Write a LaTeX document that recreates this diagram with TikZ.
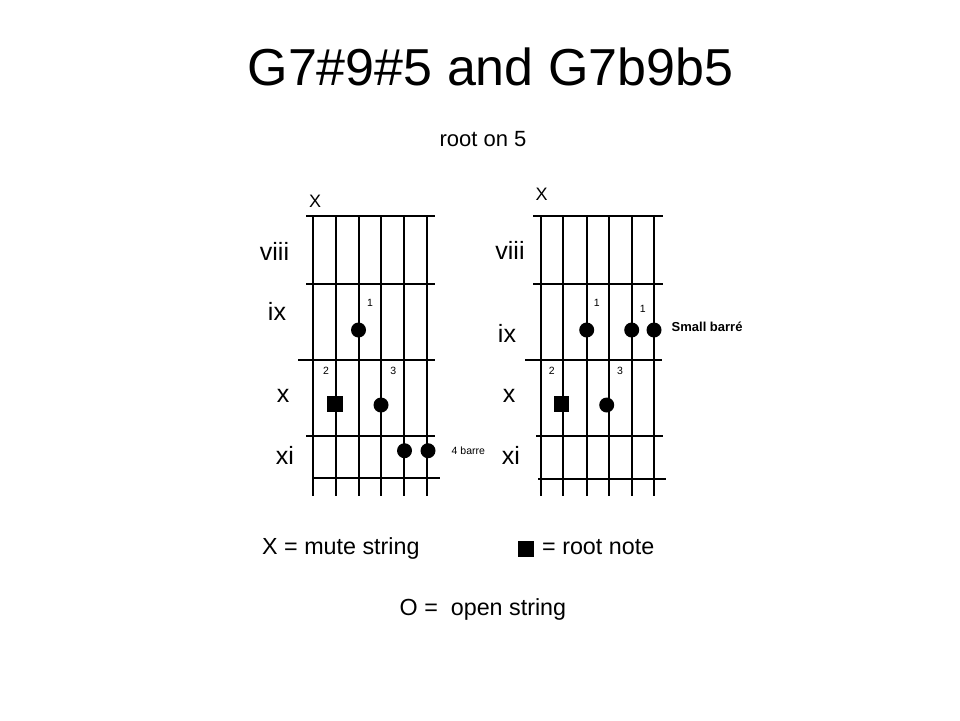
\documentclass[tikz,border=0pt]{standalone}
\usepackage{fontspec}
\setmainfont{Liberation Sans}
\newcommand{\fsz}[1]{\fontsize{#1}{#1}\selectfont}
\begin{document}
\begin{tikzpicture}[x=1pt,y=-1pt,
  stringline/.style={line width=2pt},
  fretline/.style={line width=2pt},
  fingerdot/.style={circle,fill=black,inner sep=0pt,minimum size=15pt},
  rootbox/.style={rectangle,fill=black,inner sep=0pt,minimum size=15.5pt},
  fretlabel/.style={inner sep=0pt,font=\fsz{25}},
  mutelabel/.style={inner sep=0pt,font=\fsz{18}},
  numlabel/.style={inner sep=0pt,font=\fsz{10.5}},
  legendtext/.style={inner sep=0pt,anchor=base west,font=\fsz{23.3}}]
\useasboundingbox (0,0) rectangle (960,720);
\fill[white] (0,0) rectangle (960,720);

% title
\node[inner sep=0pt,anchor=base,font=\fsz{52}] (title) at (490.5,85) {G7\#9\#5 and G7b9b5};
\node[inner sep=0pt,anchor=base,font=\fsz{22}] (sub) at (483,146.5) {root on 5};

% ---------- left diagram ----------
\foreach \x in {313.3,336,358.5,381.3,404,426.7}
  \draw[stringline] (\x,215.7) -- (\x,496);
\draw[fretline] (306,215.7) -- (435,215.7);
\draw[fretline] (306,283.7) -- (435,283.7);
\draw[fretline] (298,360) -- (435,360);
\draw[fretline] (306,436) -- (435,436);
\draw[fretline] (313,478.3) -- (440,478.3);

\node[mutelabel] (lmute) at (315,201.5) {X};
\node[fretlabel] (lviii) at (274.5,251) {viii};
\node[fretlabel] (lix) at (277,311) {ix};
\node[fretlabel] (lx) at (283,396) {x};
\node[fretlabel] (lxi) at (285,455) {xi};

\node[fingerdot] (ld1) at (358.5,330) {};
\node[numlabel] (ln1) at (370,302.5) {1};
\node[rootbox] (lroot) at (335,404) {};
\node[numlabel] (ln2) at (326,370.5) {2};
\node[fingerdot] (ld3) at (381,405) {};
\node[numlabel] (ln3) at (393.3,370.5) {3};
\node[fingerdot] (ld4a) at (404.5,450.7) {};
\node[fingerdot] (ld4b) at (428,450.7) {};
\node[numlabel,anchor=west] (lbarre) at (451.5,451) {4 barre};

% ---------- right diagram ----------
\foreach \x in {540.7,562.7,586.7,609,631.7,654}
  \draw[stringline] (\x,216) -- (\x,496);
\draw[fretline] (533,216) -- (663,216);
\draw[fretline] (533,284) -- (663,284);
\draw[fretline] (525,360) -- (662,360);
\draw[fretline] (536,436) -- (663,436);
\draw[fretline] (538,479.3) -- (666,479.3);

\node[mutelabel] (rmute) at (541.7,194.5) {X};
\node[fretlabel] (rviii) at (510,250) {viii};
\node[fretlabel] (rix) at (507,333) {ix};
\node[fretlabel] (rx) at (509,396) {x};
\node[fretlabel] (rxi) at (511,455) {xi};

\node[fingerdot] (rd1) at (586.7,330) {};
\node[numlabel] (rn1) at (596.7,303) {1};
\node[fingerdot] (rd1b) at (631.7,330) {};
\node[fingerdot] (rd1c) at (654,330) {};
\node[numlabel] (rn1b) at (642.7,309) {1};
\node[rootbox] (rroot) at (561.7,404) {};
\node[numlabel] (rn2) at (551.7,370.5) {2};
\node[fingerdot] (rd3) at (606.7,405) {};
\node[numlabel] (rn3) at (620,370.5) {3};
\node[inner sep=0pt,anchor=west,font=\bfseries\fsz{13}] (rbarre) at (671.5,327) {Small barré};

% ---------- legend ----------
\node[legendtext] (legx) at (262,554) {X = mute string};
\node[rootbox,anchor=south west] (legsq) at (518,557) {};
\node[legendtext] (legroot) at (542,554) {= root note};
\node[legendtext] (lego) at (399.5,615) {O =\ \ open string};
\end{tikzpicture}
\end{document}
